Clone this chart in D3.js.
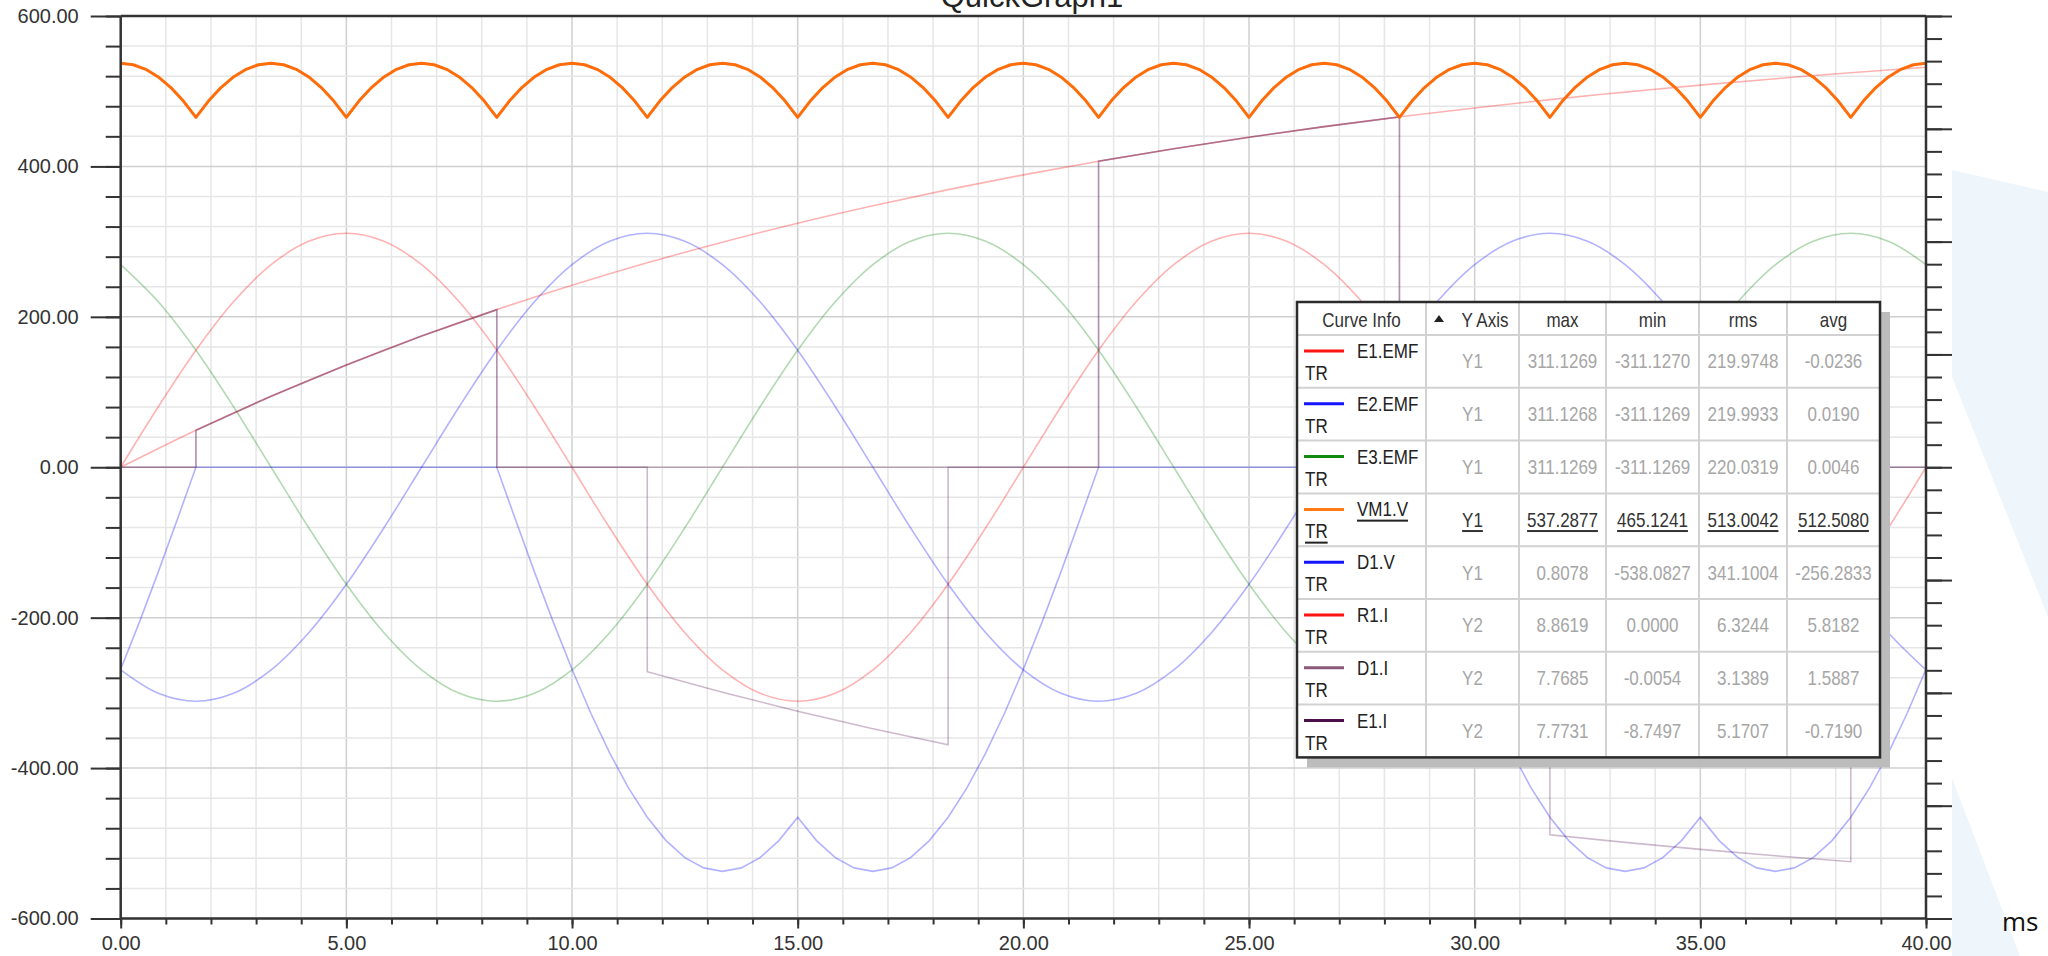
<!DOCTYPE html>
<html>
<head>
<meta charset="utf-8">
<script src="https://cdn.jsdelivr.net/npm/d3@7"></script>
<style>
  html, body { margin: 0; padding: 0; background: #fff; }
  svg { display: block; font-family: "Liberation Sans", Arial, sans-serif; }
</style>
</head>
<body>
<svg id="chart" width="2048" height="956"></svg>
<script>
// ---- data (time in ms) ----
var t15 = [0, 0.833, 1.667, 2.5, 3.333, 4.167, 5, 5.833, 6.667, 7.5, 8.333, 9.167, 10, 10.833, 11.667, 12.5,
  13.333, 14.167, 15, 15.833, 16.667, 17.5, 18.333, 19.167, 20, 20.833, 21.667, 22.5, 23.333, 24.167, 25, 25.833,
  26.667, 27.5, 28.333, 29.167, 30, 30.833, 31.667, 32.5, 33.333, 34.167, 35, 35.833, 36.667, 37.5, 38.333, 39.167, 40];

var e1Emf = [0, 80.5, 155.6, 220.0, 269.4, 300.5, 311.1, 300.5, 269.4, 220.0, 155.6, 80.5,
  0, -80.5, -155.6, -220.0, -269.4, -300.5, -311.1, -300.5, -269.4, -220.0, -155.6, -80.5,
  0, 80.5, 155.6, 220.0, 269.4, 300.5, 311.1, 300.5, 269.4, 220.0, 155.6, 80.5,
  0, -80.5, -155.6, -220.0, -269.4, -300.5, -311.1, -300.5, -269.4, -220.0, -155.6, -80.5, 0];

var e2Emf = [-269.4, -300.5, -311.1, -300.5, -269.4, -220.0, -155.6, -80.5, 0, 80.5, 155.6, 220.0,
  269.4, 300.5, 311.1, 300.5, 269.4, 220.0, 155.6, 80.5, 0, -80.5, -155.6, -220.0,
  -269.4, -300.5, -311.1, -300.5, -269.4, -220.0, -155.6, -80.5, 0, 80.5, 155.6, 220.0,
  269.4, 300.5, 311.1, 300.5, 269.4, 220.0, 155.6, 80.5, 0, -80.5, -155.6, -220.0, -269.4];

var e3Emf = [269.4, 220.0, 155.6, 80.5, 0, -80.5, -155.6, -220.0, -269.4, -300.5, -311.1, -300.5,
  -269.4, -220.0, -155.6, -80.5, 0, 80.5, 155.6, 220.0, 269.4, 300.5, 311.1, 300.5,
  269.4, 220.0, 155.6, 80.5, 0, -80.5, -155.6, -220.0, -269.4, -300.5, -311.1, -300.5,
  -269.4, -220.0, -155.6, -80.5, 0, 80.5, 155.6, 220.0, 269.4, 300.5, 311.1, 300.5, 269.4];

var t5 = [0, 0.278, 0.556, 0.833, 1.111, 1.389,
  1.667, 1.944, 2.222, 2.5, 2.778, 3.056,
  3.333, 3.611, 3.889, 4.167, 4.444, 4.722,
  5, 5.278, 5.556, 5.833, 6.111, 6.389,
  6.667, 6.944, 7.222, 7.5, 7.778, 8.056,
  8.333, 8.611, 8.889, 9.167, 9.444, 9.722,
  10, 10.278, 10.556, 10.833, 11.111, 11.389,
  11.667, 11.944, 12.222, 12.5, 12.778, 13.056,
  13.333, 13.611, 13.889, 14.167, 14.444, 14.722,
  15, 15.278, 15.556, 15.833, 16.111, 16.389,
  16.667, 16.944, 17.222, 17.5, 17.778, 18.056,
  18.333, 18.611, 18.889, 19.167, 19.444, 19.722,
  20, 20.278, 20.556, 20.833, 21.111, 21.389,
  21.667, 21.944, 22.222, 22.5, 22.778, 23.056,
  23.333, 23.611, 23.889, 24.167, 24.444, 24.722,
  25, 25.278, 25.556, 25.833, 26.111, 26.389,
  26.667, 26.944, 27.222, 27.5, 27.778, 28.056,
  28.333, 28.611, 28.889, 29.167, 29.444, 29.722,
  30, 30.278, 30.556, 30.833, 31.111, 31.389,
  31.667, 31.944, 32.222, 32.5, 32.778, 33.056,
  33.333, 33.611, 33.889, 34.167, 34.444, 34.722,
  35, 35.278, 35.556, 35.833, 36.111, 36.389,
  36.667, 36.944, 37.222, 37.5, 37.778, 38.056,
  38.333, 38.611, 38.889, 39.167, 39.444, 39.722,
  40];

var vm1V = [537.3, 535.2, 529.1, 519.0, 504.9, 486.9, 465.3, 486.9, 504.9, 519.0, 529.1, 535.2,
  537.3, 535.2, 529.1, 519.0, 504.9, 486.9, 465.3, 486.9, 504.9, 519.0, 529.1, 535.2,
  537.3, 535.2, 529.1, 519.0, 504.9, 486.9, 465.3, 486.9, 504.9, 519.0, 529.1, 535.2,
  537.3, 535.2, 529.1, 519.0, 504.9, 486.9, 465.3, 486.9, 504.9, 519.0, 529.1, 535.2,
  537.3, 535.2, 529.1, 519.0, 504.9, 486.9, 465.3, 486.9, 504.9, 519.0, 529.1, 535.2,
  537.3, 535.2, 529.1, 519.0, 504.9, 486.9, 465.3, 486.9, 504.9, 519.0, 529.1, 535.2,
  537.3, 535.2, 529.1, 519.0, 504.9, 486.9, 465.3, 486.9, 504.9, 519.0, 529.1, 535.2,
  537.3, 535.2, 529.1, 519.0, 504.9, 486.9, 465.3, 486.9, 504.9, 519.0, 529.1, 535.2,
  537.3, 535.2, 529.1, 519.0, 504.9, 486.9, 465.3, 486.9, 504.9, 519.0, 529.1, 535.2,
  537.3, 535.2, 529.1, 519.0, 504.9, 486.9, 465.3, 486.9, 504.9, 519.0, 529.1, 535.2,
  537.3, 535.2, 529.1, 519.0, 504.9, 486.9, 465.3, 486.9, 504.9, 519.0, 529.1, 535.2,
  537.3, 535.2, 529.1, 519.0, 504.9, 486.9, 465.3, 486.9, 504.9, 519.0, 529.1, 535.2,
  537.3];

var t75 = [0, 0.417, 0.833, 1.25, 1.667, 2.083, 2.5, 2.917, 3.333, 3.75, 4.167, 4.583, 5, 5.417, 5.833, 6.25,
  6.667, 7.083, 7.5, 7.917, 8.333, 8.75, 9.167, 9.583, 10, 10.417, 10.833, 11.25, 11.667, 12.083, 12.5, 12.917,
  13.333, 13.75, 14.167, 14.583, 15, 15.417, 15.833, 16.25, 16.667, 17.083, 17.5, 17.917, 18.333, 18.75, 19.167, 19.583,
  20, 20.417, 20.833, 21.25, 21.667, 22.083, 22.5, 22.917, 23.333, 23.75, 24.167, 24.583, 25, 25.417, 25.833, 26.25,
  26.667, 27.083, 27.5, 27.917, 28.333, 28.75, 29.167, 29.583, 30, 30.417, 30.833, 31.25, 31.667, 32.083, 32.5, 32.917,
  33.333, 33.75, 34.167, 34.583, 35, 35.417, 35.833, 36.25, 36.667, 37.083, 37.5, 37.917, 38.333, 38.75, 39.167, 39.583, 40];

var d1V = [-268.6, -205.6, -139.1, -70.1, 0, 0, 0, 0, 0, 0, 0, 0, 0, 0, 0, 0, 0, 0, 0, 0, 0,
  -70.1, -139.1, -205.6, -268.6, -327.1, -379.9, -426.3, -465.3, -496.4, -519.0, -532.7, -537.3,
  -532.7, -519.0, -496.4, -465.3, -496.4, -519.0, -532.7, -537.3, -532.7, -519.0, -496.4, -465.3,
  -426.3, -379.9, -327.1,
  -268.6, -205.6, -139.1, -70.1, 0, 0, 0, 0, 0, 0, 0, 0, 0, 0, 0, 0, 0, 0, 0, 0, 0,
  -70.1, -139.1, -205.6, -268.6, -327.1, -379.9, -426.3, -465.3, -496.4, -519.0, -532.7, -537.3,
  -532.7, -519.0, -496.4, -465.3, -496.4, -519.0, -532.7, -537.3, -532.7, -519.0, -496.4, -465.3,
  -426.3, -379.9, -327.1,
  -268.6];

var tR = [0, 1.667, 3.333, 5, 6.667, 8.333, 10, 11.667, 13.333, 15, 16.667, 18.333, 20,
  21.667, 23.333, 25, 26.667, 28.333, 30, 31.667, 33.333, 35, 36.667, 38.333, 40];
var r1I = [0, 0.820, 1.574, 2.267, 2.906, 3.493, 4.033, 4.530, 4.987, 5.408, 5.795, 6.152, 6.479,
  6.781, 7.058, 7.313, 7.548, 7.764, 7.963, 8.146, 8.314, 8.469, 8.611, 8.742, 8.863];

var tD1 = [0, 1.667, 1.667, 3.333, 5, 6.667, 8.333, 8.333, 21.667, 21.667, 23.333, 25, 26.667, 28.333, 28.333, 40];
var d1I = [0, 0, 0.820, 1.574, 2.267, 2.906, 3.493, 0, 0, 6.781, 7.058, 7.313, 7.548, 7.764, 0, 0];

var tE1 = [0, 1.667, 1.667, 3.333, 5, 6.667, 8.333, 8.333, 11.667, 11.667, 13.333, 15, 16.667, 18.333, 18.333,
  21.667, 21.667, 23.333, 25, 26.667, 28.333, 28.333, 31.667, 31.667, 33.333, 35, 36.667, 38.333, 38.333, 40];
var e1I = [0, 0, 0.820, 1.574, 2.267, 2.906, 3.493, 0, 0, -4.530, -4.987, -5.408, -5.795, -6.152, 0,
  0, 6.781, 7.058, 7.313, 7.548, 7.764, 0, 0, -8.146, -8.314, -8.469, -8.611, -8.742, 0, 0];

// table contents
var curveNames = ["E1.EMF", "E2.EMF", "E3.EMF", "VM1.V", "D1.V", "R1.I", "D1.I", "E1.I"];
var curveColors = ["#ff1414", "#1414ff", "#128a12", "#ff7a14", "#1414ff", "#ff1414", "#8c5a78", "#4a0f4a"];
var yAxisCol = ["Y1", "Y1", "Y1", "Y1", "Y1", "Y2", "Y2", "Y2"];
var maxCol = ["311.1269", "311.1268", "311.1269", "537.2877", "0.8078", "8.8619", "7.7685", "7.7731"];
var minCol = ["-311.1270", "-311.1269", "-311.1269", "465.1241", "-538.0827", "0.0000", "-0.0054", "-8.7497"];
var rmsCol = ["219.9748", "219.9933", "220.0319", "513.0042", "341.1004", "6.3244", "3.1389", "5.1707"];
var avgCol = ["-0.0236", "0.0190", "0.0046", "512.5080", "-256.2833", "5.8182", "1.5887", "-0.7190"];
var headers = ["max", "min", "rms", "avg"];

// ---- chart ----
var svg = d3.select("#chart");
var pL = 120.7, pR = 1926, pT = 16, pB = 918.5;

var x = d3.scaleLinear().domain([0, 40]).range([pL, pR]);
var y1 = d3.scaleLinear().domain([-600, 600]).range([pB, pT]);
var y2 = d3.scaleLinear().domain([-10, 10]).range([pB, pT]);

// background shapes to the right of the captured graph
svg.append("polygon").attr("points", "1952,170 2048,192 2048,617 1952,377").attr("fill", "#eff6fb");
svg.append("polygon").attr("points", "1952,778 1952,956 2020,956").attr("fill", "#eff6fb");

// grid
var grid = svg.append("g");
grid.selectAll(".vx").data(d3.range(0, 41, 1)).enter().append("line")
  .attr("x1", function (d) { return x(d); }).attr("x2", function (d) { return x(d); })
  .attr("y1", pT).attr("y2", pB)
  .attr("stroke", function (d) { return d % 5 === 0 ? "#cfcfcf" : "#e6e6e6"; })
  .attr("stroke-width", 1.5);
grid.selectAll(".hy").data(d3.range(-600, 601, 40)).enter().append("line")
  .attr("y1", function (d) { return y1(d); }).attr("y2", function (d) { return y1(d); })
  .attr("x1", pL).attr("x2", pR)
  .attr("stroke", function (d) { return d % 200 === 0 ? "#cfcfcf" : "#e6e6e6"; })
  .attr("stroke-width", 1.5);

// curves
svg.append("clipPath").attr("id", "plotClip").append("rect")
  .attr("x", pL).attr("y", pT).attr("width", pR - pL).attr("height", pB - pT);
var plot = svg.append("g").attr("clip-path", "url(#plotClip)");

var curves = [
  { t: t15, v: e1Emf, y: y1, color: "#ff0000", curve: d3.curveCatmullRom },
  { t: t15, v: e2Emf, y: y1, color: "#0000ff", curve: d3.curveCatmullRom },
  { t: t15, v: e3Emf, y: y1, color: "#008000", curve: d3.curveCatmullRom },
  { t: t75, v: d1V, y: y1, color: "#0000ff", curve: d3.curveLinear },
  { t: tR, v: r1I, y: y2, color: "#ff0000", curve: d3.curveCatmullRom },
  { t: tD1, v: d1I, y: y2, color: "#7a3a66", curve: d3.curveLinear },
  { t: tE1, v: e1I, y: y2, color: "#5a1a5a", curve: d3.curveLinear }
];

function pathOf(c) {
  return d3.line()
    .x(function (d, i) { return x(c.t[i]); })
    .y(function (d) { return c.y(d); })
    .curve(c.curve)(c.v);
}

curves.forEach(function (c) {
  plot.append("path").attr("d", pathOf(c))
    .attr("fill", "none").attr("stroke", c.color)
    .attr("stroke-opacity", 0.3).attr("stroke-width", 1.6);
});

// selected curve drawn on top
plot.append("path")
  .attr("d", pathOf({ t: t5, v: vm1V, y: y1, curve: d3.curveLinear }))
  .attr("fill", "none").attr("stroke", "#ff6d0a").attr("stroke-width", 3)
  .attr("stroke-linejoin", "round");

// axes
function styleAxis(g) {
  g.select(".domain").remove();
  g.selectAll(".tick line").attr("stroke", "#333").attr("stroke-width", 2);
  g.selectAll(".tick text").attr("fill", "#333").style("font-size", "20px");
}
var fmt = function (d) { return d.toFixed(2); };

svg.append("g").attr("transform", "translate(" + pL + ",0)")
  .call(d3.axisLeft(y1).tickValues(d3.range(-600, 601, 40)).tickSize(15).tickFormat(""))
  .call(styleAxis);
svg.append("g").attr("transform", "translate(" + pL + ",0)")
  .call(d3.axisLeft(y1).tickValues(d3.range(-600, 601, 200)).tickSize(30).tickPadding(12).tickFormat(fmt))
  .call(styleAxis);

svg.append("g").attr("transform", "translate(" + pR + ",0)")
  .call(d3.axisRight(y2).tickValues(d3.range(-10, 10.01, 0.5)).tickSize(16).tickFormat(""))
  .call(styleAxis);
svg.append("g").attr("transform", "translate(" + pR + ",0)")
  .call(d3.axisRight(y2).tickValues(d3.range(-10, 10.01, 2.5)).tickSize(26).tickFormat(""))
  .call(styleAxis);

svg.append("g").attr("transform", "translate(0," + pB + ")")
  .call(d3.axisBottom(x).tickValues(d3.range(0, 41, 1)).tickSize(6).tickFormat(""))
  .call(styleAxis);
svg.append("g").attr("transform", "translate(0," + pB + ")")
  .call(d3.axisBottom(x).tickValues(d3.range(0, 41, 5)).tickSize(10).tickPadding(7).tickFormat(fmt))
  .call(styleAxis);

// frame
var frame = svg.append("g").attr("stroke", "#333").attr("stroke-width", 2.5);
frame.append("line").attr("x1", pL).attr("x2", pR).attr("y1", pT).attr("y2", pT);
frame.append("line").attr("x1", pL).attr("x2", pR).attr("y1", pB).attr("y2", pB);
frame.append("line").attr("x1", pL).attr("x2", pL).attr("y1", pT).attr("y2", pB);
frame.append("line").attr("x1", pR).attr("x2", pR).attr("y1", pT).attr("y2", pB);

// title (cut at the top edge, as in the capture) and unit
svg.append("text").attr("x", 1032).attr("y", 7).attr("text-anchor", "middle")
  .style("font-size", "31px").attr("fill", "#222").text("QuickGraph1");
svg.append("text").attr("x", 2002).attr("y", 931)
  .style("font-family", "'Open Sans', sans-serif").style("font-size", "26px").attr("fill", "#111").text("ms");

// ---- curve info table ----
var colX = [1297, 1426, 1519, 1606, 1699, 1787, 1880];
var tblTop = 302, headH = 33, rowH = 52.8;
var tblBottom = tblTop + headH + rowH * curveNames.length;
var tbl = svg.append("g");

tbl.append("rect").attr("x", colX[0] + 10).attr("y", tblTop + 10)
  .attr("width", colX[6] - colX[0]).attr("height", tblBottom - tblTop).attr("fill", "#bcbcbc");
tbl.append("rect").attr("x", colX[0]).attr("y", tblTop)
  .attr("width", colX[6] - colX[0]).attr("height", tblBottom - tblTop).attr("fill", "#fff");

for (var r = 0; r < curveNames.length; r++) {
  var ly = tblTop + headH + r * rowH;
  tbl.append("line").attr("x1", colX[0]).attr("x2", colX[6]).attr("y1", ly).attr("y2", ly)
    .attr("stroke", "#d2d2d2").attr("stroke-width", 2);
}
colX.slice(1, 6).forEach(function (cx) {
  tbl.append("line").attr("x1", cx).attr("x2", cx).attr("y1", tblTop).attr("y2", tblBottom)
    .attr("stroke", "#d2d2d2").attr("stroke-width", 2);
});
tbl.append("rect").attr("x", colX[0]).attr("y", tblTop)
  .attr("width", colX[6] - colX[0]).attr("height", tblBottom - tblTop)
  .attr("fill", "none").attr("stroke", "#2b2b2b").attr("stroke-width", 2.5);

function cell(cx, cy, str, anchor, fill, underline) {
  var t = tbl.append("text")
    .attr("transform", "translate(" + cx + "," + cy + ") scale(0.85,1)")
    .attr("text-anchor", anchor).attr("dominant-baseline", "central")
    .attr("fill", fill).style("font-size", "20px").text(str);
  if (underline) t.style("text-decoration", "underline");
  return t;
}
function mid(i) { return (colX[i] + colX[i + 1]) / 2; }

var headY = tblTop + headH / 2 + 1;
cell(mid(0), headY, "Curve Info", "middle", "#333");
tbl.append("path").attr("d", "M1434,322 L1444,322 L1439,315 Z").attr("fill", "#222");
cell(1485, headY, "Y Axis", "middle", "#333");
headers.forEach(function (h, i) { cell(mid(i + 2), headY, h, "middle", "#333"); });

curveNames.forEach(function (name, i) {
  var rt = tblTop + headH + i * rowH;
  var sel = name === "VM1.V";
  var valFill = sel ? "#333" : "#a6a6a6";
  tbl.append("line").attr("x1", 1304).attr("x2", 1344).attr("y1", rt + 16).attr("y2", rt + 16)
    .attr("stroke", curveColors[i]).attr("stroke-width", 3);
  cell(1357, rt + 16, name, "start", "#222", sel);
  cell(1305, rt + 38, "TR", "start", "#222", sel);
  cell(mid(1), rt + rowH / 2, yAxisCol[i], "middle", valFill, sel);
  cell(mid(2), rt + rowH / 2, maxCol[i], "middle", valFill, sel);
  cell(mid(3), rt + rowH / 2, minCol[i], "middle", valFill, sel);
  cell(mid(4), rt + rowH / 2, rmsCol[i], "middle", valFill, sel);
  cell(mid(5), rt + rowH / 2, avgCol[i], "middle", valFill, sel);
});
</script>
</body>
</html>
